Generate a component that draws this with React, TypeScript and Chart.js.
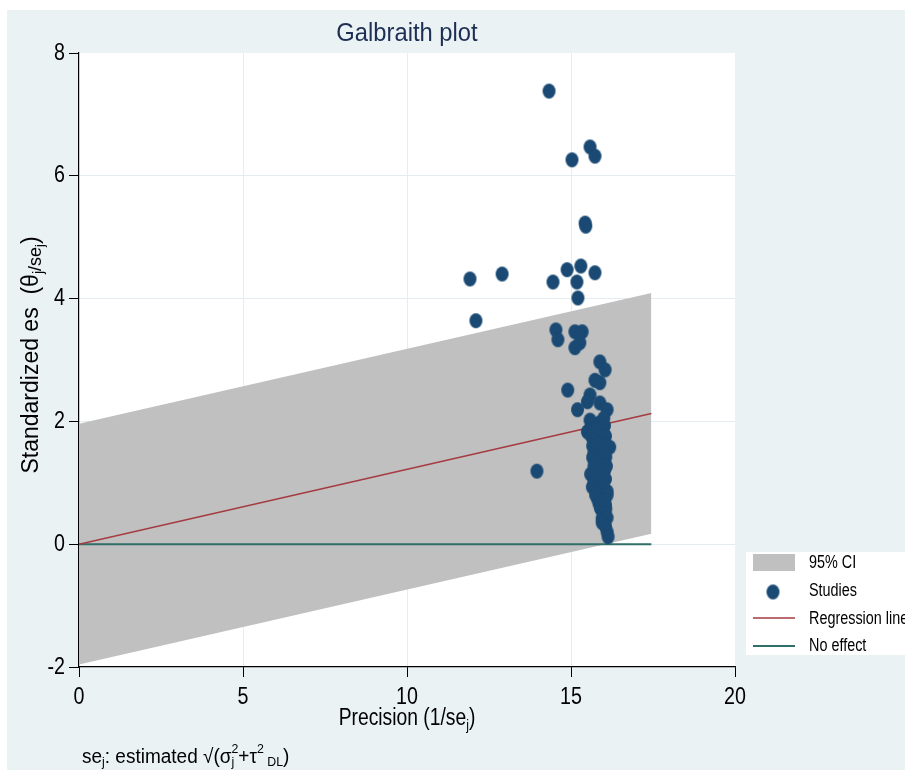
import React, { useEffect, useRef } from "react";
import { Chart, registerables } from "chart.js";
Chart.register(...registerables);

// ---------- data ----------
const studyX = [
  14.33, 15.03, 15.58, 15.73, 15.43, 15.45, 11.92, 12.9, 14.45, 14.88, 15.3, 15.18, 15.73, 15.21, 12.1, 13.96,
  14.54, 14.6, 15.12, 15.34, 15.27, 15.12,
  15.88, 16.04, 15.73, 15.88, 14.9, 15.58, 15.5, 15.88, 16.1, 15.2, 15.58, 16.0, 15.5, 16.0,
  15.65, 15.85, 16.02, 15.6, 15.78, 15.55, 15.7, 15.95, 15.62, 15.82, 16.05, 15.7, 15.9, 15.66, 15.86, 16.02,
  15.76, 16.18, 15.7, 15.95, 15.66, 15.86, 16.06, 15.76, 16.0, 15.7, 15.9, 16.08, 15.8, 16.02, 15.6, 15.9,
  15.75, 16.05, 15.7, 15.95, 15.65, 15.85, 15.8, 16.1, 15.75, 15.95, 16.1, 15.82, 16.02, 15.86, 16.05, 15.9,
  16.06, 16.0, 15.95, 16.1, 15.95, 16.05, 16.1, 16.13,
];
const studyY = [
  7.38, 6.26, 6.47, 6.32, 5.23, 5.18, 4.32, 4.4, 4.27, 4.47, 4.53, 4.27, 4.42, 4.01, 3.64, 1.19,
  3.49, 3.33, 3.46, 3.46, 3.28, 3.2,
  2.97, 2.84, 2.67, 2.63, 2.51, 2.43, 2.32, 2.3, 2.19, 2.19, 2.02, 2.05, 1.83, 1.78,
  1.95, 1.97, 1.93, 1.88, 1.9, 1.84, 1.82, 1.86, 1.76, 1.74, 1.76, 1.68, 1.66, 1.6, 1.62, 1.6,
  1.54, 1.58, 1.48, 1.47, 1.41, 1.4, 1.42, 1.34, 1.35, 1.27, 1.28, 1.27, 1.2, 1.2, 1.14, 1.13,
  1.07, 1.06, 1.0, 1.0, 0.93, 0.92, 0.86, 0.86, 0.8, 0.79, 0.8, 0.72, 0.71, 0.65, 0.64, 0.58,
  0.57, 0.5, 0.42, 0.43, 0.35, 0.29, 0.2, 0.12,
];
const bandX = [0, 17.45];
const ciUpper = [1.96, 4.09];
const ciLower = [-1.96, 0.17];
const regressionY = [0, 2.13];
const noEffectY = [0, 0];
const xTicks = [0, 5, 10, 15, 20];
const yTicks = [-2, 0, 2, 4, 6, 8];
const legendLabels = ["95% CI", "Studies", "Regression line", "No effect"];
const titleText = "Galbraith plot";

// ---------- styles ----------
const FONT = '"Liberation Sans", Arial, Helvetica, sans-serif';
const BG = "#eaf2f3";
const GRID = "#e4edf0";
const DOT = "#1a4a73";
const BAND = "#c0c0c0";
const REG = "#a53a40";
const NOEFF = "#2f6e69";

type Seg = { t: string; s: number; dy?: number; stack?: boolean };

function drawRich(
  ctx: CanvasRenderingContext2D,
  segs: Seg[],
  x: number,
  y: number,
  align: "left" | "center",
  sx: number,
  color: string,
  rot = false
) {
  ctx.save();
  ctx.translate(x, y);
  if (rot) ctx.rotate(-Math.PI / 2);
  ctx.scale(sx, 1);
  const widths: number[] = [];
  let total = 0;
  for (const sg of segs) {
    ctx.font = `${sg.s}px ${FONT}`;
    const w = ctx.measureText(sg.t).width;
    widths.push(w);
    if (!sg.stack) total += w;
  }
  let cx = align === "center" ? -total / 2 : 0;
  ctx.fillStyle = color;
  ctx.textAlign = "left";
  ctx.textBaseline = "alphabetic";
  segs.forEach((sg, i) => {
    ctx.font = `${sg.s}px ${FONT}`;
    ctx.fillText(sg.t, cx, sg.dy || 0);
    if (!sg.stack) cx += widths[i];
  });
  ctx.restore();
}

function drawPlain(
  ctx: CanvasRenderingContext2D,
  t: string,
  x: number,
  y: number,
  size: number,
  sx: number,
  align: CanvasTextAlign,
  color = "#000"
) {
  ctx.save();
  ctx.translate(x, y);
  ctx.scale(sx, 1);
  ctx.font = `${size}px ${FONT}`;
  ctx.fillStyle = color;
  ctx.textAlign = align;
  ctx.textBaseline = "middle";
  ctx.fillText(t, 0, 0);
  ctx.restore();
}

function makeDot(): HTMLCanvasElement {
  const c = document.createElement("canvas");
  c.width = 15;
  c.height = 17;
  const g = c.getContext("2d")!;
  g.fillStyle = DOT;
  g.beginPath();
  g.ellipse(7.5, 8.5, 6.5, 7.6, 0, 0, Math.PI * 2);
  g.fill();
  return c;
}

export default function App() {
  const ref = useRef<HTMLCanvasElement | null>(null);

  useEffect(() => {
    if (!ref.current) return;
    const dot = makeDot();
    const pts = (ys: number[]) => bandX.map((x, i) => ({ x, y: ys[i] }));

    const decor = {
      id: "decor",
      beforeDraw(chart: any) {
        const ctx = chart.ctx as CanvasRenderingContext2D;
        const a = chart.chartArea;
        ctx.save();
        ctx.fillStyle = "#ffffff";
        ctx.fillRect(0, 0, chart.width, chart.height);
        ctx.fillStyle = BG;
        ctx.fillRect(7, 10, chart.width - 7, chart.height - 10);
        ctx.fillStyle = "#ffffff";
        ctx.fillRect(a.left, a.top, a.right - a.left, a.bottom - a.top);
        ctx.restore();
      },
      afterDraw(chart: any) {
        const ctx = chart.ctx as CanvasRenderingContext2D;
        const xs = chart.scales.x;
        const ys = chart.scales.y;
        // tick labels
        yTicks.forEach((v) => drawPlain(ctx, String(v), 65, ys.getPixelForValue(v), 24, 0.82, "right"));
        xTicks.forEach((v) => drawPlain(ctx, String(v), xs.getPixelForValue(v), 697, 24, 0.82, "center"));
        // title
        drawRich(ctx, [{ t: titleText, s: 25 }], 407, 41, "center", 0.95, "#1e2f55");
        // x axis title
        drawRich(
          ctx,
          [
            { t: "Precision (1/se", s: 23.5 },
            { t: "j", s: 15, dy: 5 },
            { t: ")", s: 23.5 },
          ],
          407,
          725,
          "center",
          0.82,
          "#000"
        );
        // y axis title
        drawRich(
          ctx,
          [
            { t: "Standardized es  (θ", s: 23 },
            { t: "j", s: 14, dy: 5 },
            { t: "/se", s: 18, dy: 3 },
            { t: "j", s: 13, dy: 6 },
            { t: ")", s: 23 },
          ],
          38,
          355,
          "center",
          1,
          "#000",
          true
        );
        // footnote
        drawRich(
          ctx,
          [
            { t: "se", s: 20 },
            { t: "j", s: 13, dy: 3 },
            { t: ": estimated √(σ", s: 20 },
            { t: "j", s: 13, dy: 3, stack: true },
            { t: "2", s: 13, dy: -10 },
            { t: "+τ", s: 20 },
            { t: "2", s: 13, dy: -10 },
            { t: " DL", s: 13, dy: 3 },
            { t: ")", s: 20 },
          ],
          82,
          763,
          "left",
          0.95,
          "#000"
        );
        // legend
        ctx.save();
        ctx.fillStyle = "#ffffff";
        ctx.fillRect(746, 552, 905 - 746, 655 - 552);
        ctx.fillStyle = BAND;
        ctx.fillRect(753, 554, 42, 17);
        ctx.drawImage(dot, 773 - 7.5, 592 - 8.5);
        ctx.strokeStyle = REG;
        ctx.lineWidth = 1.5;
        ctx.beginPath();
        ctx.moveTo(753, 618);
        ctx.lineTo(795, 618);
        ctx.stroke();
        ctx.strokeStyle = NOEFF;
        ctx.lineWidth = 2;
        ctx.beginPath();
        ctx.moveTo(753, 646);
        ctx.lineTo(795, 646);
        ctx.stroke();
        ctx.restore();
        const ly = [563, 591, 619, 646];
        legendLabels.forEach((t, i) => drawPlain(ctx, t, 809, ly[i], 18, 0.8, "left"));
      },
    };

    const gridColor = (lo: number, hi: number) => (c: any) =>
      c.tick && (c.tick.value === lo || c.tick.value === hi) ? "rgba(0,0,0,0)" : GRID;

    const chart = new Chart(ref.current, {
      type: "line",
      data: {
        datasets: [
          {
            label: "Studies",
            data: studyX.map((x, i) => ({ x, y: studyY[i] })),
            showLine: false,
            pointStyle: dot as any,
            pointRadius: 6,
            backgroundColor: DOT,
            borderColor: DOT,
          },
          {
            label: "Regression line",
            data: pts(regressionY),
            borderColor: REG,
            borderWidth: 1.5,
            pointRadius: 0,
            fill: false,
          },
          {
            label: "No effect",
            data: pts(noEffectY),
            borderColor: NOEFF,
            borderWidth: 2,
            pointRadius: 0,
            fill: false,
          },
          {
            label: "CI lower",
            data: pts(ciLower),
            borderWidth: 0,
            borderColor: "rgba(0,0,0,0)",
            pointRadius: 0,
            fill: false,
          },
          {
            label: "95% CI",
            data: pts(ciUpper),
            borderWidth: 0,
            borderColor: "rgba(0,0,0,0)",
            backgroundColor: BAND,
            pointRadius: 0,
            fill: "-1",
          },
        ],
      },
      options: {
        responsive: false,
        animation: false,
        events: [],
        layout: { padding: { left: 0, top: 53, right: 170, bottom: 0 } },
        plugins: { legend: { display: false }, tooltip: { enabled: false }, title: { display: false } },
        scales: {
          x: {
            type: "linear",
            min: 0,
            max: 20,
            ticks: { stepSize: 5, display: false },
            grid: { color: gridColor(0, 20), tickColor: "#000", tickLength: 10, lineWidth: 1 },
            border: { display: true, color: "#000", width: 1.2 },
            afterFit: (s: any) => {
              s.height = 103;
            },
          },
          y: {
            type: "linear",
            min: -2,
            max: 8,
            ticks: { stepSize: 2, display: false },
            grid: { color: gridColor(-2, 8), tickColor: "#000", tickLength: 10, lineWidth: 1 },
            border: { display: true, color: "#000", width: 1.2 },
            afterFit: (s: any) => {
              s.width = 79;
            },
          },
        },
      },
      plugins: [decor],
    } as any);

    return () => chart.destroy();
  }, []);

  return (
    <canvas
      ref={ref}
      width={905}
      height={770}
      style={{ position: "fixed", left: 0, top: 0, display: "block", width: 905, height: 770 }}
    />
  );
}
